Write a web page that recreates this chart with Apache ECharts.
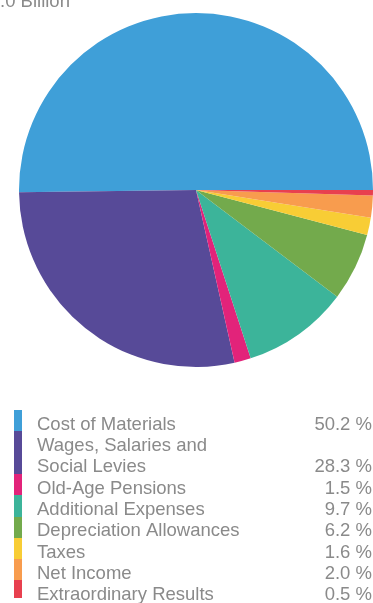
<!DOCTYPE html>
<html>
<head>
<meta charset="utf-8">
<script src="https://cdn.jsdelivr.net/npm/echarts@6/dist/echarts.min.js"></script>
<style>
  html, body { margin: 0; padding: 0; background: #fff; }
  #chart { width: 373px; height: 603px; }
</style>
</head>
<body>
<div id="chart"></div>
<script>
// Cost structure shares (percent of total)
const categories = [
  'Cost of Materials',
  'Wages, Salaries and\nSocial Levies',
  'Old-Age Pensions',
  'Additional Expenses',
  'Depreciation Allowances',
  'Taxes',
  'Net Income',
  'Extraordinary Results'
];
const shares = [50.2, 28.3, 1.5, 9.7, 6.2, 1.6, 2.0, 0.5];
const colors = ['#3f9fd8', '#574a98', '#e2237a', '#3cb49a', '#73aa4c', '#f8cd35', '#f89c4e', '#e8404f'];
const headline = '.0 Billion';

const chart = echarts.init(document.getElementById('chart'), null, { renderer: 'canvas' });

// Legend block: colour strip on the left, names and right-aligned percentages
const textFont = '18.5px "Liberation Sans", Arial, sans-serif';
const textColor = '#8a8a8a';
const legendTop = 410;
const lineH = 21.3;
const graphics = [];

graphics.push({
  type: 'text', left: 0, top: -8,
  style: { text: headline, font: textFont, fill: textColor }
});

let line = 0;
categories.forEach((name, i) => {
  const nLines = name.split('\n').length;
  const y0 = legendTop + line * lineH;
  const y1 = Math.min(legendTop + (line + nLines) * lineH, 598);
  graphics.push({
    type: 'rect',
    shape: { x: 14, y: Math.round(y0), width: 8, height: Math.round(y1) - Math.round(y0) },
    style: { fill: colors[i] }
  });
  name.split('\n').forEach((part, k) => {
    graphics.push({
      type: 'text', x: 37, y: y0 + (k + 1) * lineH + 3,
      style: { text: part, font: textFont, fill: textColor, textVerticalAlign: 'bottom', textAlign: 'left' }
    });
  });
  graphics.push({
    type: 'text', x: 372, y: y0 + nLines * lineH + 3,
    style: { text: shares[i].toFixed(1) + ' %', font: textFont, fill: textColor, textVerticalAlign: 'bottom', textAlign: 'right' }
  });
  line += nLines;
});

chart.setOption({
  animation: false,
  graphic: graphics,
  series: [{
    type: 'pie',
    center: [196, 190],
    radius: [0, 177],
    startAngle: 0,
    clockwise: false,
    label: { show: false },
    labelLine: { show: false },
    emphasis: { disabled: true },
    itemStyle: { borderWidth: 0 },
    data: categories.map((name, i) => ({
      name: name,
      value: shares[i],
      itemStyle: { color: colors[i] }
    }))
  }]
});
</script>
</body>
</html>
